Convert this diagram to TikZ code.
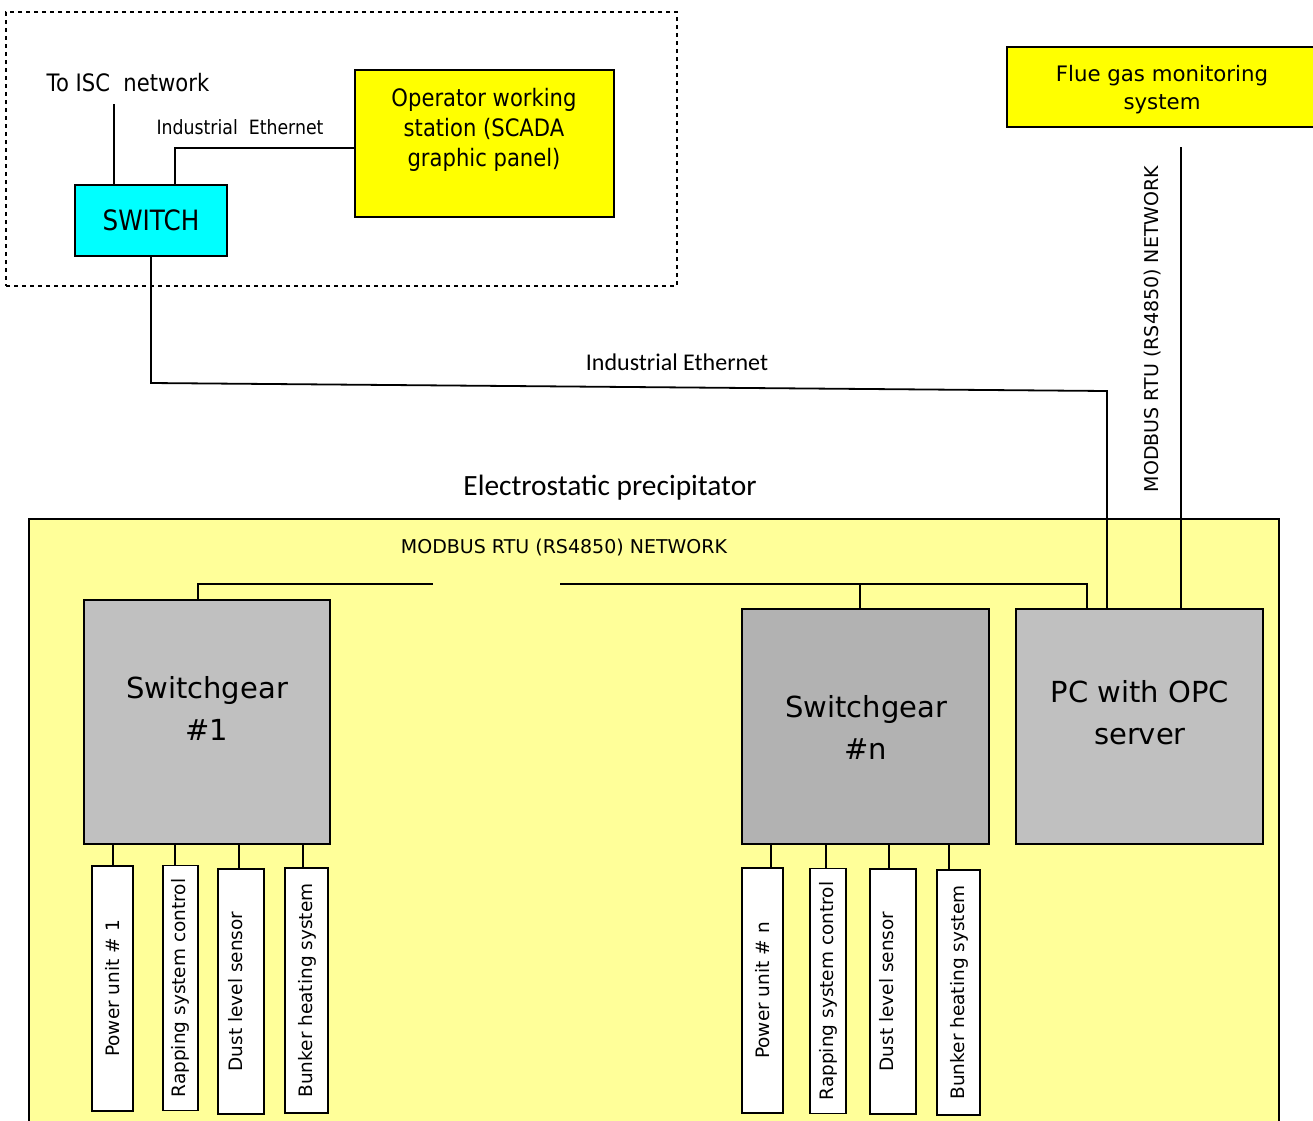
\documentclass[tikz,border=0pt]{standalone}
\usepackage{fontspec}
\setmainfont{DejaVu Sans}
\newfontfamily\condfont[FakeStretch=0.88]{DejaVu Sans}
\newfontfamily\calfont{Carlito}

\definecolor{espyellow}{RGB}{255,255,153}
\definecolor{brightyellow}{RGB}{255,255,0}
\definecolor{switchcyan}{RGB}{0,255,255}
\definecolor{lightgrey}{RGB}{192,192,192}
\definecolor{midgrey}{RGB}{178,178,178}

\begin{document}
\begin{tikzpicture}[x=1pt,y=-1pt,
  box/.style={draw=black,line width=1.8pt,inner sep=0pt,outer sep=0pt},
  unitbox/.style={box,fill=white,minimum width=#1,minimum height=245pt},
  unittext/.style={rotate=90,font=\fontsize{18.5}{22}\selectfont},
  wire/.style={line width=1.8pt},
  thinwire/.style={line width=1.2pt},
  bigtext/.style={align=center,font=\fontsize{29}{42}\selectfont},
  modbustext/.style={font=\fontsize{19}{23}\selectfont}
]
\clip (0,0) rectangle (1313,1120);
\fill[white] (0,0) rectangle (1313,1120);

% control room frame
\node[draw=black,line width=2pt,dash pattern=on 4pt off 4pt,inner sep=0pt,
      minimum width=671pt,minimum height=274pt] (room) at (341.5,149) {};

\node[font=\condfont\fontsize{24}{28}\selectfont] (isc) at (128,83) {To ISC\ \ network};
\coordinate (isctail) at (114,104);

\node[box,fill=switchcyan,minimum width=152pt,minimum height=71pt,
      font=\condfont\fontsize{28}{32}\selectfont] (sw) at (151,220.5) {SWITCH};

\node[box,fill=brightyellow,minimum width=259pt,minimum height=147pt] (ows) at (484.5,143.5) {};
\node[align=center,font=\condfont\fontsize{24}{30}\selectfont] (owstext) at (484,130)
  {Operator working\\station (SCADA\\graphic panel)};

\node[font=\condfont\fontsize{19.7}{23}\selectfont] (ie1) at (240,127) {Industrial\ \ Ethernet};

\draw[wire] (isctail) -- (isctail |- sw.north);
\draw[thinwire] ([xshift=24pt]sw.north) |- ([yshift=-4.5pt]ows.west);

% flue gas monitoring
\node[box,fill=brightyellow,minimum width=308pt,minimum height=80pt,inner sep=0pt,
      outer sep=0pt] (flue) at (1161,87) {};
\node[align=center,font=\fontsize{21.3}{28}\selectfont] (fluetext) at (1162,89.5)
  {Flue gas monitoring\\system};

% electrostatic precipitator area
\node[font=\calfont\fontsize{29.4}{34}\selectfont] (esptitle) at (610,488) {Electrostatic precipitator};
\node[box,fill=espyellow,minimum width=1250pt,minimum height=640pt] (esp) at (654,839) {};

\node[modbustext] (modbus) at (564,548) {MODBUS RTU (RS4850) NETWORK};
\node[modbustext,rotate=90] (modbusv) at (1153,329) {MODBUS RTU (RS4850) NETWORK};
\node[font=\calfont\fontsize{24}{28}\selectfont] (ie2) at (677,362) {Industrial Ethernet};

\node[box,fill=lightgrey,minimum width=246pt,minimum height=244pt] (sg1) at (207,722) {};
\node[bigtext] (sg1text) at (207,708) {Switchgear\\\#1};

\node[box,fill=midgrey,minimum width=247pt,minimum height=235pt] (sgn) at (865.5,726.5) {};
\node[bigtext] (sgntext) at (866,727.5) {Switchgear\\\#n};

\node[box,fill=lightgrey,minimum width=247pt,minimum height=235pt] (pc) at (1139.5,726.5) {};
\node[bigtext] (pctext) at (1140,713) {PC with OPC\\server};

% Industrial Ethernet trunk
\coordinate (ebend) at (151,383);
\coordinate (ecorner) at (1107,391);
\draw[wire] (sw.south) -- (ebend) -- (ecorner) -- (ecorner |- pc.north);

% flue gas link
\coordinate (fluetail) at (1181,147);
\draw[thinwire] (fluetail) -- (fluetail |- pc.north);

% MODBUS bus
\coordinate (busL) at (198,584);
\coordinate (busLend) at (433,584);
\coordinate (busR) at (560,584);
\coordinate (busRend) at (1087,584);
\draw[thinwire] (busL |- sg1.north) -- (busL) -- (busLend);
\draw[thinwire] (busR) -- (busRend) -- (busRend |- pc.north);
\draw[thinwire] ([xshift=-5.5pt]sgn.north) -- ([xshift=-5.5pt]sgn.north |- busR);

% units of switchgear #1
\node[unitbox=41pt] (pu1) at (112.5,988.5) {};
\node[unittext] at (pu1) {Power unit \# 1};
\node[unitbox=35pt] (rap1) at (180.5,988) {};
\node[unittext] at (rap1) {Rapping system control};
\node[unitbox=46pt] (dust1) at (241,991.5) {};
\node[unittext] at ([xshift=-5pt]dust1.center) {Dust level sensor};
\node[unitbox=43pt] (bunk1) at (306.5,990.5) {};
\node[unittext] at ([xshift=1pt]bunk1.center) {Bunker heating system};

\draw[thinwire] ([xshift=0.5pt]pu1.north) -- ([xshift=0.5pt]pu1.north |- sg1.south);
\draw[thinwire] ([xshift=-5.5pt]rap1.north) -- ([xshift=-5.5pt]rap1.north |- sg1.south);
\draw[thinwire] ([xshift=-2pt]dust1.north) -- ([xshift=-2pt]dust1.north |- sg1.south);
\draw[thinwire] ([xshift=-3.5pt]bunk1.north) -- ([xshift=-3.5pt]bunk1.north |- sg1.south);

% units of switchgear #n
\node[unitbox=41pt] (pun) at (762.5,990.5) {};
\node[unittext] at (pun) {Power unit \# n};
\node[unitbox=36pt] (rapn) at (828,991) {};
\node[unittext] at (rapn) {Rapping system control};
\node[unitbox=46pt] (dustn) at (893,991.5) {};
\node[unittext] at ([xshift=-6pt]dustn.center) {Dust level sensor};
\node[unitbox=43pt] (bunkn) at (958.5,992.5) {};
\node[unittext] at ([xshift=1pt]bunkn.center) {Bunker heating system};

\draw[thinwire] ([xshift=8.5pt]pun.north) -- ([xshift=8.5pt]pun.north |- sgn.south);
\draw[thinwire] ([xshift=-2pt]rapn.north) -- ([xshift=-2pt]rapn.north |- sgn.south);
\draw[thinwire] ([xshift=-4pt]dustn.north) -- ([xshift=-4pt]dustn.north |- sgn.south);
\draw[thinwire] ([xshift=-9.5pt]bunkn.north) -- ([xshift=-9.5pt]bunkn.north |- sgn.south);
\end{tikzpicture}
\end{document}
